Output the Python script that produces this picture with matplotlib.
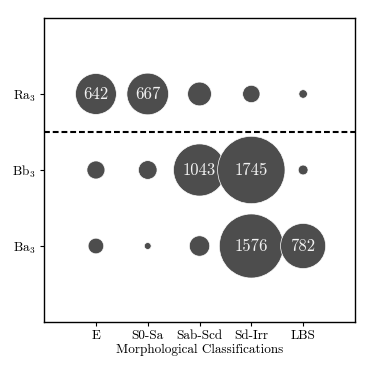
import matplotlib

matplotlib.use("Agg")
import matplotlib.pyplot as plt  # noqa: E402

plt.rcParams["font.family"] = ["cmr10", "DejaVu Serif"]
plt.rcParams["mathtext.fontset"] = "cm"
plt.rcParams["axes.unicode_minus"] = False

# categories along x (morphology) and y (groups, bottom to top)
morph = ["E", "S0-Sa", "Sab-Scd", "Sd-Irr", "LBS"]
groups = [r"$\mathrm{Ba}_3$", r"$\mathrm{Bb}_3$", r"$\mathrm{Ra}_3$"]

# counts per group
ba3 = [94, 18, 160, 1576, 782]
bb3 = [125, 134, 1043, 1745, 37]
ra3 = [642, 667, 217, 116, 28]
counts = [ba3, bb3, ra3]

# bubbles with a count above this get a label
label_min = 500

fig = plt.figure(figsize=(3.74, 3.74), dpi=100)
ax = fig.add_axes([0.118, 0.139, 0.831, 0.813])

for yi, row in enumerate(counts):
    xs = list(range(len(morph)))
    ax.scatter(xs, [yi] * len(xs), s=[v * 1.35 for v in row], color="#4d4d4d",
               edgecolor="white", linewidth=0.5, zorder=3)
    for xi, v in enumerate(row):
        if v > label_min:
            ax.text(xi, yi, str(v), ha="center", va="center", color="#f2f2f2",
                    fontsize=12, zorder=4)

# separator between Ra3 and the B groups
ax.axhline(1.5, color="black", lw=1.5, linestyle=(0, (2.8, 1.4)), zorder=2)

ax.set_xlim(-1, 5)
ax.set_ylim(-1, 3)
ax.set_xticks(range(len(morph)))
ax.set_xticklabels(morph, fontsize=9.5)
ax.set_yticks(range(len(groups)))
ax.set_yticklabels(groups, fontsize=9.5)
ax.set_xlabel("Morphological Classifications", fontsize=9.5, labelpad=1)
ax.tick_params(length=3, width=0.8, pad=3)
for sp in ax.spines.values():
    sp.set_linewidth(1.0)

fig.savefig("out.png", dpi=100)
